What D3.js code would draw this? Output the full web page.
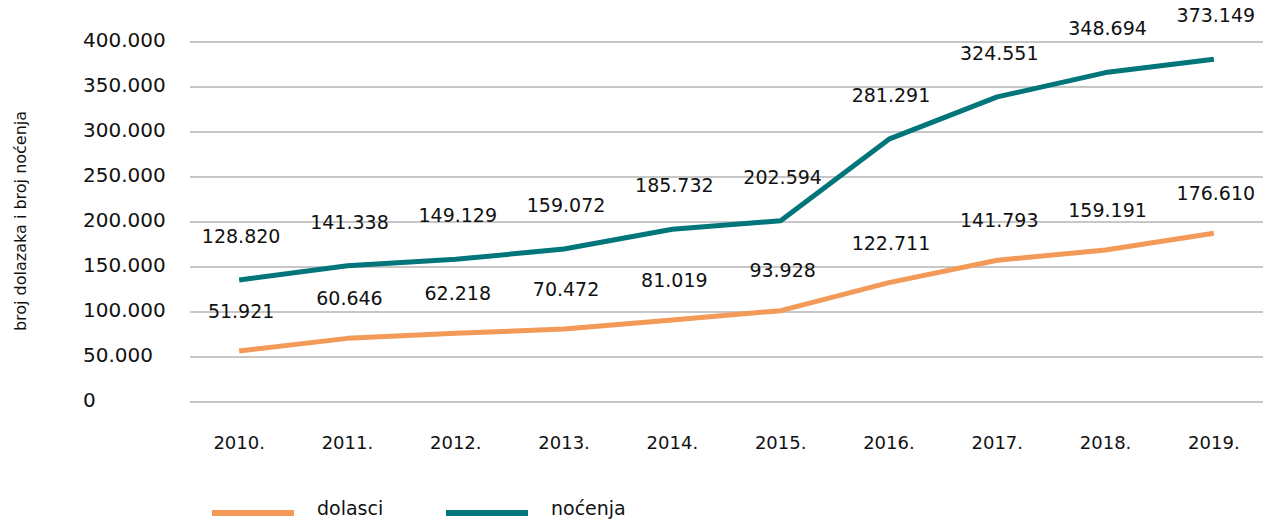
<!DOCTYPE html>
<html>
<head>
<meta charset="utf-8">
<script src="https://cdn.jsdelivr.net/npm/d3@7"></script>
<style>
  html, body { margin: 0; padding: 0; background: #fff; }
  svg { display: block; font-family: "DejaVu Sans", sans-serif; }
</style>
</head>
<body>
<svg></svg>
<script>
  const width = 1267,
    height = 520;

  // categories
  const years = ["2010.", "2011.", "2012.", "2013.", "2014.", "2015.", "2016.", "2017.", "2018.", "2019."];

  const dolasci = [56700, 70700, 76300, 81000, 91000, 101500, 132600, 157500, 168900, 187400];
  const nocenja = [135500, 151400, 158500, 170000, 191900, 201400, 292000, 339000, 366000, 380800];

  // printed value labels
  const dolasciLabels = ["51.921", "60.646", "62.218", "70.472", "81.019", "93.928", "122.711", "141.793", "159.191", "176.610"];
  const nocenjaLabels = ["128.820", "141.338", "149.129", "159.072", "185.732", "202.594", "281.291", "324.551", "348.694", "373.149"];

  const yTicks = [0, 50000, 100000, 150000, 200000, 250000, 300000, 350000, 400000];

  const orange = "#f39a58",
    teal = "#00767a",
    grid = "#b4b4b4";

  const svg = d3.select("svg")
    .attr("width", width)
    .attr("height", height);

  const x = d3.scaleBand()
    .domain(years)
    .range([185, 1268]);

  const y = d3.scaleLinear()
    .domain([0, 400000])
    .range([402, 42]);

  const fmt = d3.formatLocale({decimal: ",", thousands: ".", grouping: [3], currency: ["", ""]}).format(",d");

  // gridlines
  svg.append("g")
    .selectAll("line")
    .data(yTicks)
    .enter()
    .append("line")
    .attr("x1", 190)
    .attr("x2", 1263)
    .attr("y1", d => y(d))
    .attr("y2", d => y(d))
    .attr("stroke", grid)
    .attr("stroke-width", 1.4);

  // y tick labels (left aligned)
  svg.append("g")
    .selectAll("text")
    .data(yTicks)
    .enter()
    .append("text")
    .attr("x", 83)
    .attr("y", d => y(d) - 2)
    .attr("dy", "0.36em")
    .attr("font-size", 20)
    .attr("fill", "#111")
    .text(d => fmt(d));

  // y axis title
  svg.append("text")
    .attr("transform", "translate(26,221) rotate(-90)")
    .attr("text-anchor", "middle")
    .attr("font-size", 16)
    .attr("fill", "#111")
    .text("broj dolazaka i broj noćenja");

  // x labels
  svg.append("g")
    .selectAll("text")
    .data(years)
    .enter()
    .append("text")
    .attr("x", d => x(d) + x.bandwidth() / 2)
    .attr("y", 449)
    .attr("text-anchor", "middle")
    .attr("font-size", 18)
    .attr("fill", "#111")
    .text(d => d);

  const cx = (d, i) => x(years[i]) + x.bandwidth() / 2;

  const line = d3.line()
    .x(cx)
    .y(d => y(d));

  const series = [
    {name: "dolasci", values: dolasci, labels: dolasciLabels, color: orange, lift: 40},
    {name: "noćenja", values: nocenja, labels: nocenjaLabels, color: teal, lift: 44}
  ];

  series.forEach(s => {
    svg.append("path")
      .datum(s.values)
      .attr("fill", "none")
      .attr("stroke", s.color)
      .attr("stroke-width", 5)
      .attr("stroke-linejoin", "round")
      .attr("d", line);

    svg.append("g")
      .selectAll("text")
      .data(s.values)
      .enter()
      .append("text")
      .attr("x", (d, i) => cx(d, i) + 2)
      .attr("y", d => y(d) - s.lift)
      .attr("dy", "0.36em")
      .attr("text-anchor", "middle")
      .attr("font-size", 19)
      .attr("fill", "#111")
      .text((d, i) => s.labels[i]);
  });

  // legend
  const legend = svg.append("g");
  const legendItems = [
    {name: "dolasci", color: orange, x: 212, tx: 317},
    {name: "noćenja", color: teal, x: 446, tx: 551}
  ];

  legend.selectAll("line")
    .data(legendItems)
    .enter()
    .append("line")
    .attr("x1", d => d.x)
    .attr("x2", d => d.x + 82)
    .attr("y1", 513)
    .attr("y2", 513)
    .attr("stroke", d => d.color)
    .attr("stroke-width", 6);

  legend.selectAll("text")
    .data(legendItems)
    .enter()
    .append("text")
    .attr("x", d => d.tx)
    .attr("y", 515)
    .attr("font-size", 19)
    .attr("fill", "#111")
    .text(d => d.name);
</script>
</body>
</html>
